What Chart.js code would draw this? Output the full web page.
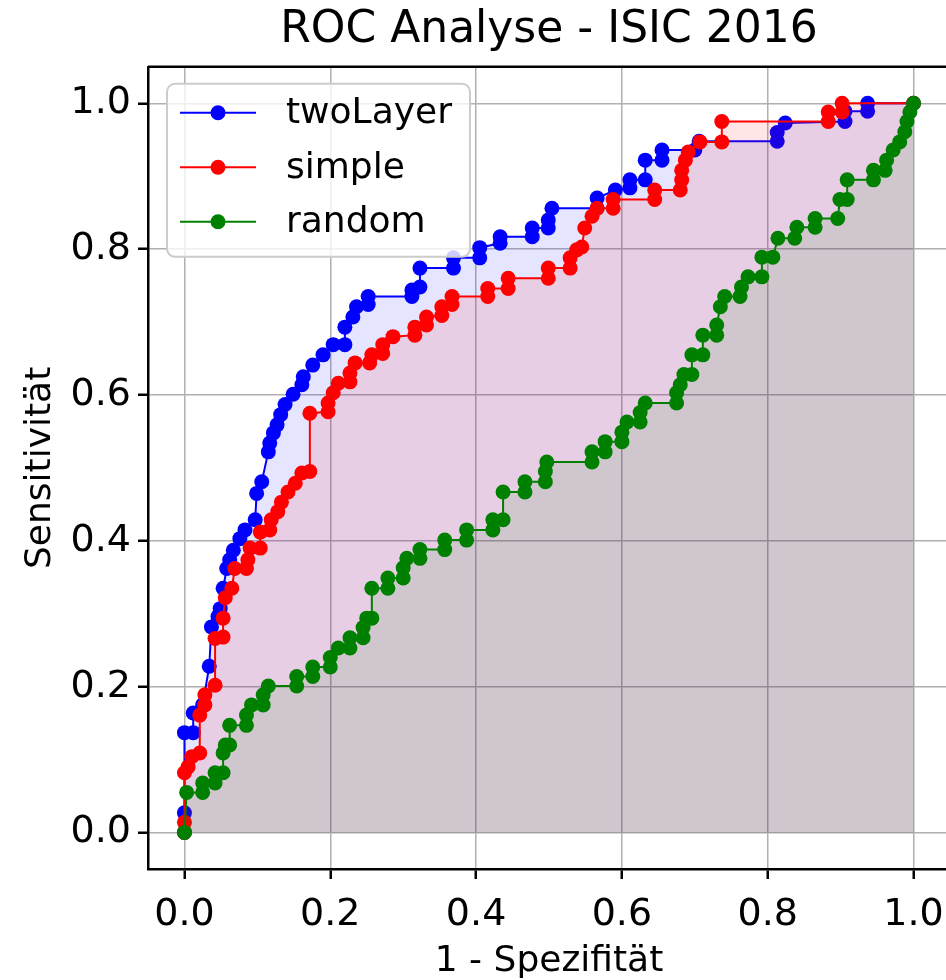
<!DOCTYPE html>
<html lang="de">
<head>
<meta charset="utf-8">
<title>ROC Analyse - ISIC 2016</title>
<script src="https://cdn.jsdelivr.net/npm/chart.js@4.4.1/dist/chart.umd.min.js"></script>
<style>
  html, body { margin: 0; padding: 0; background: #fff; overflow: hidden; }
  /* 描画領域は右端がウィンドウからはみ出す（元画像も右の枠線が切れている） */
  #wrap { position: relative; width: 960px; height: 980px; }
</style>
</head>
<body>
<div id="wrap"><canvas id="roc"></canvas></div>
<script>
const FONT = '"DejaVu Sans", sans-serif';

// 目盛り・系列名・色
const tickValues = [0, 0.2, 0.4, 0.6, 0.8, 1.0];
const seriesNames = ['twoLayer', 'simple', 'random'];
const seriesColors = ['#0000ff', '#ff0000', '#008000'];
const fillColors = ['rgba(0,0,255,0.1)', 'rgba(255,0,0,0.1)', 'rgba(0,128,0,0.1)'];

// twoLayer（1 - Spezifität / Sensitivität）
const twoLayerFpr = [0, 0, 0, 0.012, 0.012, 0.025, 0.034, 0.037, 0.046, 0.049, 0.053, 0.058, 0.062, 0.067, 0.076, 0.083,
  0.097, 0.099, 0.106, 0.115, 0.117, 0.122, 0.127, 0.132, 0.138, 0.149, 0.161, 0.163, 0.176, 0.190, 0.204, 0.220,
  0.220, 0.231, 0.236, 0.252, 0.252, 0.312, 0.312, 0.323, 0.323, 0.369, 0.369, 0.405, 0.405, 0.433, 0.433, 0.477,
  0.477, 0.499, 0.499, 0.504, 0.566, 0.566, 0.591, 0.611, 0.611, 0.632, 0.632, 0.655, 0.655, 0.700, 0.706, 0.813,
  0.813, 0.824, 0.906, 0.906, 0.937, 0.937, 1.0];
const twoLayerTpr = [0, 0.027, 0.137, 0.137, 0.164, 0.175, 0.228, 0.282, 0.296, 0.307, 0.335, 0.362, 0.374, 0.387, 0.403, 0.415,
  0.429, 0.465, 0.481, 0.522, 0.534, 0.548, 0.559, 0.573, 0.587, 0.601, 0.614, 0.625, 0.641, 0.655, 0.669, 0.669,
  0.693, 0.707, 0.721, 0.724, 0.735, 0.735, 0.744, 0.748, 0.774, 0.774, 0.788, 0.788, 0.802, 0.808, 0.817, 0.817,
  0.829, 0.829, 0.840, 0.856, 0.856, 0.870, 0.881, 0.884, 0.895, 0.895, 0.922, 0.922, 0.936, 0.936, 0.948, 0.948,
  0.960, 0.973, 0.975, 0.989, 0.989, 1.0, 1.0];

// simple
const simpleFpr = [0, 0, 0, 0.005, 0.010, 0.021, 0.021, 0.028, 0.028, 0.042, 0.042, 0.053, 0.053, 0.056, 0.065, 0.069,
  0.085, 0.087, 0.090, 0.104, 0.104, 0.117, 0.119, 0.128, 0.133, 0.142, 0.152, 0.161, 0.172, 0.172, 0.197, 0.197,
  0.204, 0.211, 0.227, 0.227, 0.234, 0.254, 0.257, 0.272, 0.272, 0.286, 0.316, 0.316, 0.332, 0.332, 0.353, 0.353,
  0.367, 0.367, 0.416, 0.416, 0.444, 0.444, 0.499, 0.499, 0.529, 0.529, 0.538, 0.545, 0.549, 0.559, 0.566, 0.588,
  0.588, 0.645, 0.645, 0.680, 0.682, 0.682, 0.687, 0.691, 0.707, 0.737, 0.737, 0.883, 0.883, 0.902, 0.902, 1.0];
const simpleTpr = [0, 0.014, 0.082, 0.090, 0.104, 0.109, 0.161, 0.175, 0.189, 0.202, 0.266, 0.268, 0.294, 0.322, 0.335, 0.362,
  0.362, 0.374, 0.390, 0.390, 0.412, 0.415, 0.429, 0.440, 0.453, 0.467, 0.479, 0.493, 0.495, 0.575, 0.577, 0.589,
  0.603, 0.616, 0.618, 0.630, 0.644, 0.644, 0.655, 0.657, 0.669, 0.680, 0.682, 0.693, 0.696, 0.707, 0.709, 0.721,
  0.724, 0.735, 0.735, 0.746, 0.746, 0.760, 0.760, 0.774, 0.774, 0.788, 0.799, 0.803, 0.829, 0.845, 0.856, 0.856,
  0.868, 0.868, 0.881, 0.881, 0.895, 0.908, 0.922, 0.933, 0.947, 0.947, 0.975, 0.975, 0.988, 0.988, 1.0, 1.0];

// random
const randomFpr = [0, 0.003, 0.025, 0.025, 0.042, 0.042, 0.053, 0.053, 0.056, 0.062, 0.062, 0.085, 0.085, 0.092, 0.108, 0.108,
  0.115, 0.154, 0.154, 0.176, 0.176, 0.200, 0.200, 0.211, 0.227, 0.227, 0.245, 0.245, 0.250, 0.257, 0.257, 0.279,
  0.279, 0.300, 0.300, 0.305, 0.323, 0.323, 0.357, 0.357, 0.387, 0.387, 0.423, 0.423, 0.437, 0.437, 0.467, 0.467,
  0.495, 0.495, 0.497, 0.559, 0.559, 0.577, 0.577, 0.600, 0.600, 0.607, 0.625, 0.625, 0.632, 0.675, 0.675, 0.680,
  0.685, 0.696, 0.696, 0.711, 0.711, 0.730, 0.730, 0.735, 0.741, 0.762, 0.764, 0.773, 0.792, 0.792, 0.807, 0.814,
  0.837, 0.840, 0.865, 0.865, 0.896, 0.899, 0.909, 0.909, 0.945, 0.945, 0.961, 0.963, 0.972, 0.981, 0.988, 0.991,
  0.995, 1.0];
const randomTpr = [0, 0.055, 0.055, 0.068, 0.068, 0.082, 0.082, 0.109, 0.120, 0.120, 0.147, 0.147, 0.161, 0.175, 0.175, 0.189,
  0.201, 0.201, 0.214, 0.214, 0.227, 0.227, 0.240, 0.253, 0.253, 0.267, 0.267, 0.281, 0.294, 0.294, 0.335, 0.335,
  0.349, 0.349, 0.363, 0.376, 0.376, 0.388, 0.388, 0.401, 0.401, 0.415, 0.415, 0.429, 0.429, 0.467, 0.467, 0.481,
  0.481, 0.495, 0.508, 0.508, 0.522, 0.522, 0.536, 0.536, 0.549, 0.563, 0.563, 0.576, 0.589, 0.589, 0.603, 0.614,
  0.628, 0.628, 0.655, 0.655, 0.682, 0.682, 0.696, 0.721, 0.735, 0.735, 0.748, 0.762, 0.762, 0.789, 0.789, 0.815,
  0.815, 0.830, 0.830, 0.842, 0.842, 0.868, 0.868, 0.895, 0.895, 0.908, 0.908, 0.922, 0.936, 0.947, 0.961, 0.975,
  0.988, 1.0];

function toPoints(xs, ys) {
  return xs.map((x, i) => ({ x, y: ys[i] }));
}

// 後に描かれる系列ほど上に来るよう order を付ける（random が最前面）
function makeDataset(i, xs, ys, order) {
  return {
    label: seriesNames[i],
    data: toPoints(xs, ys),
    borderColor: seriesColors[i],
    backgroundColor: fillColors[i],
    pointBackgroundColor: seriesColors[i],
    pointBorderWidth: 0,
    pointRadius: 7.5,
    pointHoverRadius: 7.5,
    borderWidth: 2,
    tension: 0,
    fill: 'origin',
    order,
  };
}

// 凡例（線＋マーカー）をプロット内左上に描く
const legendBox = {
  id: 'legendBox',
  afterDatasetsDraw(chart) {
    const { ctx, chartArea: a } = chart;
    const x = a.left + 19, y = a.top + 17, w = 303, h = 173;
    ctx.save();
    ctx.beginPath();
    ctx.roundRect(x, y, w, h, 8);
    ctx.fillStyle = 'rgba(255,255,255,0.8)';
    ctx.fill();
    ctx.lineWidth = 2;
    ctx.strokeStyle = '#cccccc';
    ctx.stroke();
    ctx.font = `36px ${FONT}`;
    ctx.textBaseline = 'middle';
    seriesNames.forEach((name, i) => {
      const rowY = y + 29 + i * 54.5;
      ctx.strokeStyle = seriesColors[i];
      ctx.lineWidth = 2;
      ctx.beginPath();
      ctx.moveTo(x + 13, rowY);
      ctx.lineTo(x + 89, rowY);
      ctx.stroke();
      ctx.fillStyle = seriesColors[i];
      ctx.beginPath();
      ctx.arc(x + 51, rowY, 7.5, 0, Math.PI * 2);
      ctx.fill();
      ctx.fillStyle = '#000';
      ctx.fillText(name, x + 119, rowY + 1);
    });
    ctx.restore();
  }
};

// 上と右の枠線
const frame = {
  id: 'frame',
  afterDraw(chart) {
    const { ctx, chartArea: a } = chart;
    ctx.save();
    ctx.strokeStyle = '#000';
    ctx.lineWidth = 2.5;
    ctx.beginPath();
    ctx.moveTo(a.left, a.top);
    ctx.lineTo(a.right, a.top);
    ctx.lineTo(a.right, a.bottom);
    ctx.stroke();
    ctx.restore();
  }
};

function axisOptions(label, tickPadding, titleFont, titlePadding, fit) {
  return {
    type: 'linear',
    min: -0.05,
    max: 1.05,
    afterBuildTicks: s => { s.ticks = tickValues.map(v => ({ value: v })); },
    afterFit: fit,
    grid: { color: '#b0b0b0', lineWidth: 1.5, tickColor: '#000', tickWidth: 2.5, tickLength: 10 },
    border: { display: true, color: '#000', width: 2.5 },
    ticks: {
      color: '#000',
      font: { family: FONT, size: 38 },
      padding: tickPadding,
      maxRotation: 0,
      callback: v => Number(v).toFixed(1),
    },
    title: {
      display: true,
      text: label,
      color: '#000',
      font: titleFont,
      padding: titlePadding,
    },
  };
}

new Chart(document.getElementById('roc'), {
  type: 'line',
  data: {
    datasets: [
      makeDataset(0, twoLayerFpr, twoLayerTpr, 3),
      makeDataset(1, simpleFpr, simpleTpr, 2),
      makeDataset(2, randomFpr, randomTpr, 1),
    ]
  },
  options: {
    responsive: true,
    maintainAspectRatio: false,
    devicePixelRatio: 1,
    animation: false,
    events: [],
    layout: { padding: { top: 0, right: 10, bottom: 0, left: 0 } },
    plugins: {
      legend: { display: false },
      tooltip: { enabled: false },
      title: {
        display: true,
        text: 'ROC Analyse - ISIC 2016',
        color: '#000',
        font: { family: FONT, size: 44, weight: 'normal' },
        padding: { top: 4, bottom: 10 },
        fullSize: false,
      },
    },
    scales: {
      x: axisOptions('1 - Spezifität', 13, { family: FONT, size: 36, lineHeight: 1.0 }, { top: 0, bottom: 0 },
        s => { s.height = 111; }),
      y: axisOptions('Sensitivität', 7, { family: FONT, size: 36 }, { top: 19, bottom: 0 },
        s => { s.width = 148; }),
    }
  },
  plugins: [legendBox, frame]
});
</script>
</body>
</html>
